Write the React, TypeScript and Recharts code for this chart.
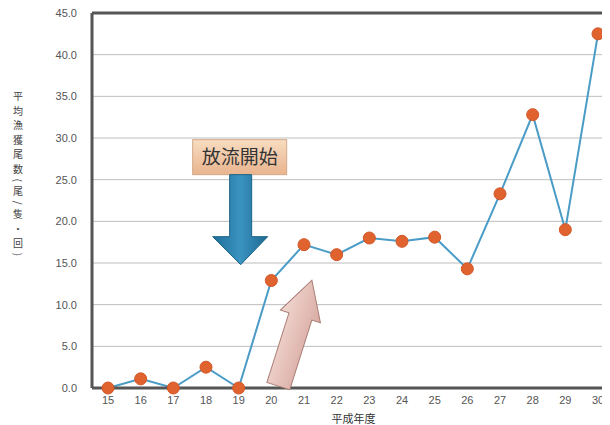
import React from 'react';
import { LineChart, Line, XAxis, YAxis, CartesianGrid, ReferenceLine, ReferenceDot } from 'recharts';

const years = ['15', '16', '17', '18', '19', '20', '21', '22', '23', '24', '25', '26', '27', '28', '29', '30'];
const catch_ = [0, 1.1, 0, 2.5, 0, 12.9, 17.2, 16.0, 18.0, 17.6, 18.1, 14.3, 23.3, 32.8, 19.0, 42.5];
const yTicks = [0, 5, 10, 15, 20, 25, 30, 35, 40, 45];
const yLabel = '平均漁獲尾数(尾/隻・回)';
const xLabel = '平成年度';
const releaseLabel = '放流開始';

const data = years.map((y, i) => ({ year: y, v: catch_[i] }));

const FRAME = '#555555';
const FONT = '"Liberation Sans", "Noto Sans CJK JP", sans-serif';

const BoxShape = (props: any) => {
  const { cx, cy } = props;
  if (cx == null || cy == null) return null;
  const w = 94;
  const h = 35;
  const x = cx + 1 - w / 2;
  const y = cy - h / 2;
  return (
    <g>
      <defs>
        <linearGradient id="boxGrad" x1="0" y1="0" x2="0" y2="1">
          <stop offset="0%" stopColor="#f7dcc0" />
          <stop offset="100%" stopColor="#e9b48e" />
        </linearGradient>
      </defs>
      <rect x={x} y={y} width={w} height={h} fill="url(#boxGrad)" stroke="#d4a888" strokeWidth={1} />
      <text x={cx + 1} y={cy + 7} textAnchor="middle" fontSize={19} fill="#333" fontFamily='"Noto Sans CJK JP", sans-serif'>
        {releaseLabel}
      </text>
    </g>
  );
};

const BlueArrow = (props: any) => {
  const { cx, cy } = props;
  if (cx == null || cy == null) return null;
  const tx = cx + 2;
  const ty = cy;
  const d = [
    `M ${tx - 11} ${ty - 90}`,
    `L ${tx + 11} ${ty - 90}`,
    `L ${tx + 11} ${ty - 28}`,
    `L ${tx + 27} ${ty - 28}`,
    `L ${tx} ${ty}`,
    `L ${tx - 28} ${ty - 28}`,
    `L ${tx - 11} ${ty - 28}`,
    'Z',
  ].join(' ');
  return (
    <g>
      <defs>
        <linearGradient id="blueGrad" x1="0" y1="0" x2="1" y2="0">
          <stop offset="0%" stopColor="#1f6f98" />
          <stop offset="50%" stopColor="#3a93c0" />
          <stop offset="100%" stopColor="#1d6a92" />
        </linearGradient>
      </defs>
      <path d={d} fill="url(#blueGrad)" stroke="#1b6388" strokeWidth={1} />
    </g>
  );
};

const PinkArrow = (props: any) => {
  const { cx, cy } = props;
  if (cx == null || cy == null) return null;
  const bx = cx + 7;
  const by = cy - 2;
  const d = 'M -12 0 L -12 -73 L -21 -73 L 0 -111 L 21 -73 L 12 -73 L 12 0 Z';
  return (
    <g transform={`translate(${bx} ${by}) rotate(17.6)`}>
      <defs>
        <linearGradient id="pinkGrad" x1="0" y1="0" x2="1" y2="0">
          <stop offset="0%" stopColor="#f2d8d2" />
          <stop offset="100%" stopColor="#d8aaa2" />
        </linearGradient>
      </defs>
      <path d={d} fill="url(#pinkGrad)" stroke="#a97d75" strokeWidth={1} />
    </g>
  );
};

const YLabel = (props: any) => {
  return (
    <text
      x={10}
      y={168}
      textAnchor="middle"
      fontSize={10}
      fill="#444"
      fontFamily='"Noto Sans CJK JP", sans-serif'
      style={{ writingMode: 'vertical-rl', letterSpacing: '4.5px' } as any}
    >
      {yLabel}
    </text>
  );
};

export default function App() {
  return (
    <div style={{ width: 602, height: 417, overflow: 'hidden' }}>
      <LineChart width={607} height={417} data={data} margin={{ top: 5, right: 0, left: 0, bottom: 0 }}>
        <CartesianGrid vertical={false} stroke="#bdbdbd" strokeWidth={1} />
        <XAxis
          dataKey="year"
          interval={0}
          padding={{ left: 16, right: 17 }}
          tickLine={false}
          tickSize={6}
          tickMargin={2}
          height={37}
          axisLine={{ stroke: FRAME, strokeWidth: 3 }}
          tick={{ fontSize: 11, fill: '#555', fontFamily: FONT }}
          label={{ value: xLabel, position: 'insideBottom', offset: 2, fontSize: 11, fill: '#333', fontFamily: '"Noto Sans CJK JP", sans-serif' }}
        />
        <YAxis
          width={84}
          domain={[0, 45]}
          ticks={yTicks}
          interval={0}
          tickLine={false}
          tickSize={0}
          tickMargin={15}
          axisLine={{ stroke: FRAME, strokeWidth: 3 }}
          tickFormatter={(v: number) => v.toFixed(1)}
          tick={{ fontSize: 11, fill: '#555', fontFamily: FONT }}
          label={{ content: YLabel }}
        />
        <ReferenceLine y={45} stroke={FRAME} strokeWidth={3} />
        <ReferenceDot x="20" y={0} r={0} shape={PinkArrow} />
        <ReferenceDot x="19" y={27.7} r={0} shape={BoxShape} />
        <ReferenceDot x="19" y={14.8} r={0} shape={BlueArrow} />
        <Line
          type="linear"
          dataKey="v"
          stroke="#4a9cc6"
          strokeWidth={2}
          dot={{ r: 6, fill: '#e0622e', stroke: '#d25626', strokeWidth: 1 }}
          isAnimationActive={false}
        />
      </LineChart>
    </div>
  );
}
